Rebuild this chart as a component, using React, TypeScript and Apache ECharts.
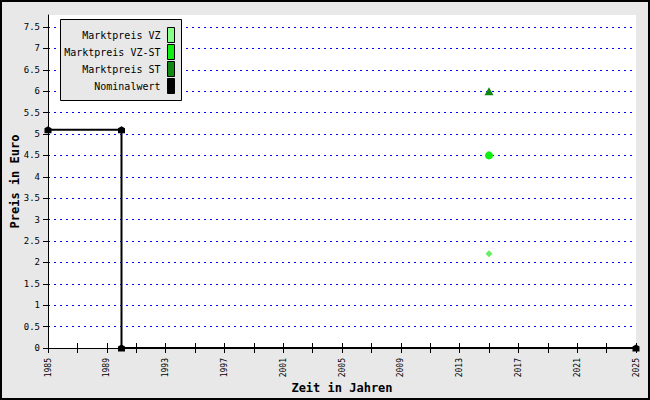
import React, { useEffect, useRef } from "react";
import * as echarts from "echarts";

const nominalYears = [1985, 1990, 1990, 2025];
const nominalValues = [5.1, 5.1, 0, 0];
const marketYear = [2015];
const vzValues = [2.2];
const vzStValues = [4.5];
const stValues = [6.0];
const legendNames = ["Marktpreis VZ", "Marktpreis VZ-ST", "Marktpreis ST", "Nominalwert"];
const legendColors = ["#88ff88", "#11ee11", "#118811", "#000000"];

const MONO = "'DejaVu Sans Mono', monospace";

export default function App() {
  const ref = useRef<HTMLDivElement>(null);
  useEffect(() => {
    const chart = echarts.init(ref.current!, null, { renderer: "svg" });
    const legendTops = [27, 44, 61, 78];
    const legends = legendNames.map((n, i) => ({
      data: [{ name: n, icon: "rect", itemStyle: { color: legendColors[i], borderColor: "#000", borderWidth: 1 } }],
      right: 475,
      top: legendTops[i],
      padding: 0,
      align: "right",
      itemWidth: 7,
      itemHeight: 15,
      selectedMode: false,
      z: 20,
      textStyle: { fontFamily: MONO, fontSize: 10, color: "#000", padding: [0, 2, 0, 0] },
    }));
    chart.setOption({
      animation: false,
      backgroundColor: "#e8e8e8",
      graphic: [
        { type: "rect", shape: { x: 1, y: 1, width: 648, height: 398 }, style: { fill: "none", stroke: "#000", lineWidth: 2 }, z: 100 },
        { type: "rect", shape: { x: 60.5, y: 19.5, width: 121, height: 81 }, style: { fill: "#e8e8e8", stroke: "#000", lineWidth: 1 }, z: 10 },
      ],
      legend: legends,
      grid: { left: 48, right: 14, top: 15, bottom: 52, show: true, backgroundColor: "#fff", borderWidth: 0, containLabel: false, outerBoundsMode: "none" },
      xAxis: [
        {
          type: "value",
          min: 1985,
          max: 2025,
          interval: 2,
          name: "Zeit in Jahren",
          nameLocation: "middle",
          nameGap: 34,
          nameMoveOverlap: false,
          nameTextStyle: { fontFamily: MONO, fontSize: 12, fontWeight: "bold", color: "#000" },
          axisLine: { show: true, lineStyle: { color: "#000", width: 1 } },
          axisTick: { show: true, length: 5, lineStyle: { color: "#000" } },
          axisLabel: {
            rotate: 90,
            margin: 10,
            fontFamily: MONO,
            fontSize: 8,
            color: "#000",
            formatter: (v: number) => ((v - 1985) % 4 === 0 ? String(v) : ""),
          },
          splitLine: { show: false },
        },
        {
          type: "value",
          min: 1985,
          max: 2025,
          interval: 2,
          position: "bottom",
          axisLine: { show: false },
          axisTick: { show: true, inside: true, length: 5, lineStyle: { color: "#000" } },
          axisLabel: { show: false },
          splitLine: { show: false },
        },
      ],
      yAxis: {
        type: "value",
        min: 0,
        max: 7.78,
        interval: 0.5,
        name: "Preis in Euro",
        nameLocation: "middle",
        nameGap: 27,
        nameMoveOverlap: false,
        nameTextStyle: { fontFamily: MONO, fontSize: 12, fontWeight: "bold", color: "#000" },
        axisLine: { show: true, lineStyle: { color: "#000", width: 1 } },
        axisTick: { show: true, length: 5, lineStyle: { color: "#000" } },
        axisLabel: { margin: 8, fontFamily: MONO, fontSize: 9, color: "#000", showMaxLabel: false },
        splitLine: {
          show: true,
          showMinLine: false,
          showMaxLine: false,
          lineStyle: { color: "#0000ff", width: 1, type: [2, 4] },
        },
      },
      series: [
        {
          name: "Nominalwert",
          type: "line",
          z: 3,
          data: nominalYears.map((y, i) => [y, nominalValues[i]]),
          lineStyle: { color: "#000", width: 2 },
          itemStyle: { color: "#000" },
          symbol: "path://M0,2 L3,0 L6,2 L6,7 L0,7 Z",
          symbolSize: [7, 7],
          showAllSymbol: true,
          clip: false,
        },
        {
          name: "Marktpreis VZ",
          type: "scatter",
          z: 4,
          data: marketYear.map((y, i) => [y, vzValues[i]]),
          symbol: "diamond",
          symbolSize: 7,
          itemStyle: { color: "#66ee66", opacity: 1 },
        },
        {
          name: "Marktpreis VZ-ST",
          type: "scatter",
          z: 4,
          data: marketYear.map((y, i) => [y, vzStValues[i]]),
          symbol: "circle",
          symbolSize: 8,
          itemStyle: { color: "#11ee11", opacity: 1 },
        },
        {
          name: "Marktpreis ST",
          type: "scatter",
          z: 4,
          data: marketYear.map((y, i) => [y, stValues[i]]),
          symbol: "triangle",
          symbolSize: [9, 8],
          itemStyle: { color: "#118811", opacity: 1 },
        },
      ],
    });
    return () => chart.dispose();
  }, []);
  return <div ref={ref} style={{ position: "fixed", left: 0, top: 0, width: 650, height: 400 }} />;
}
